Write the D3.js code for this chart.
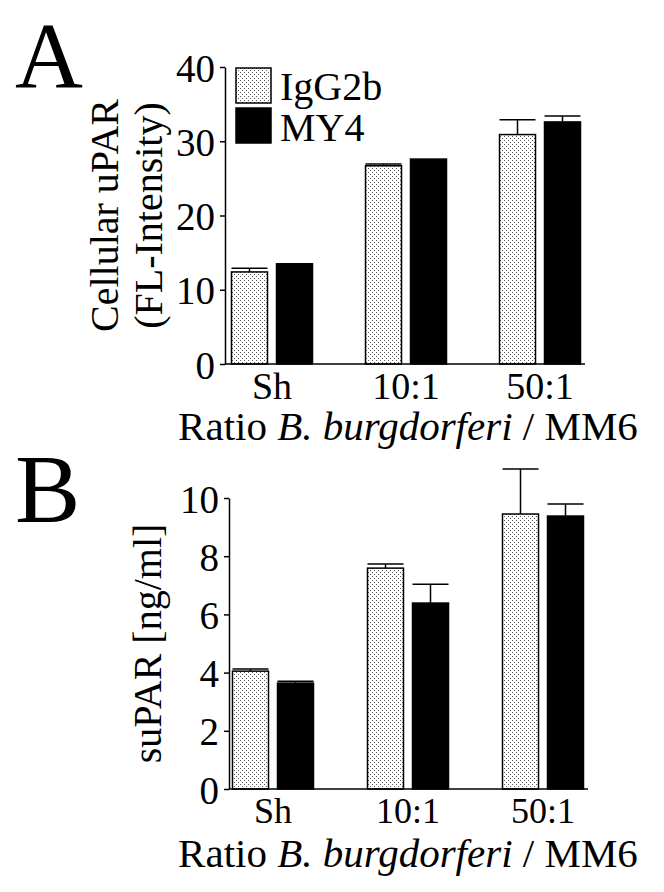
<!DOCTYPE html>
<html>
<head>
<meta charset="utf-8">
<script src="https://cdn.jsdelivr.net/npm/d3@7"></script>
<style>
  html, body { margin: 0; padding: 0; background: #fff; }
  svg { display: block; }
  text { font-family: "Liberation Serif", "Times New Roman", serif; fill: #000; }
</style>
</head>
<body>
<svg id="chart" width="664" height="892"></svg>
<script>
// ---------- data ----------
const categories = ["Sh", "10:1", "50:1"];
const seriesNames = ["IgG2b", "MY4"];

// Panel A: Cellular uPAR (FL-Intensity)
const cellularIgG2b = [12.4, 26.7, 30.9];
const cellularIgG2bErr = [0.5, 0.25, 2.0];
const cellularMY4 = [13.5, 27.6, 32.6];
const cellularMY4Err = [0, 0, 0.8];
const cellularTicks = [0, 10, 20, 30, 40];

// Panel B: suPAR [ng/ml]
const suparIgG2b = [4.05, 7.59, 9.45];
const suparIgG2bErr = [0.07, 0.14, 1.55];
const suparMY4 = [3.64, 6.39, 9.38];
const suparMY4Err = [0.06, 0.65, 0.41];
const suparTicks = [0, 2, 4, 6, 8, 10];

// ---------- drawing ----------
const svg = d3.select("#chart");
const defs = svg.append("defs");
const pat = defs.append("pattern")
  .attr("id", "stipple").attr("patternUnits", "userSpaceOnUse")
  .attr("width", 4).attr("height", 4);
pat.append("rect").attr("width", 4).attr("height", 4).attr("fill", "#fff");
pat.append("rect").attr("x", 0).attr("y", 0).attr("width", 1).attr("height", 1).attr("fill", "#555");
pat.append("rect").attr("x", 2).attr("y", 2).attr("width", 1).attr("height", 1).attr("fill", "#555");

const fills = { "IgG2b": "url(#stipple)", "MY4": "#000" };

function panel(opts) {
  const g = svg.append("g");
  const y = d3.scaleLinear().domain(opts.domain).range([opts.y0, opts.y1]);
  const x = d3.scalePoint().domain(categories).range(opts.xr);
  const xs = d3.scaleBand().domain(seriesNames).range([-40.5, 40.5]).paddingInner(0.2);
  const bw = xs.bandwidth();

  const rows = [];
  categories.forEach((c, i) => {
    rows.push({ c, s: "IgG2b", v: opts.a[i], e: opts.ae[i] });
    rows.push({ c, s: "MY4", v: opts.b[i], e: opts.be[i] });
  });

  // bars
  g.selectAll("rect.bar").data(rows).join("rect")
    .attr("class", "bar")
    .attr("x", d => x(d.c) + xs(d.s))
    .attr("y", d => y(d.v))
    .attr("width", bw)
    .attr("height", d => y(0) - y(d.v))
    .attr("fill", d => fills[d.s])
    .attr("stroke", "#000")
    .attr("stroke-width", 1.5);

  // error bars
  const eb = rows.filter(d => d.e > 0);
  g.selectAll("line.ev").data(eb).join("line")
    .attr("x1", d => x(d.c) + xs(d.s) + bw / 2)
    .attr("x2", d => x(d.c) + xs(d.s) + bw / 2)
    .attr("y1", d => y(d.v))
    .attr("y2", d => y(d.v + d.e))
    .attr("stroke", "#000").attr("stroke-width", 1.5);
  g.selectAll("line.ec").data(eb).join("line")
    .attr("x1", d => x(d.c) + xs(d.s))
    .attr("x2", d => x(d.c) + xs(d.s) + bw)
    .attr("y1", d => y(d.v + d.e))
    .attr("y2", d => y(d.v + d.e))
    .attr("stroke", "#000").attr("stroke-width", 1.5);

  // y axis
  const ax = g.append("g").attr("transform", `translate(${opts.ax},0)`)
    .call(d3.axisLeft(y).tickValues(opts.ticks).tickSize(5).tickSizeOuter(0).tickPadding(5));
  ax.select(".domain").attr("stroke-width", 1.5);
  ax.selectAll(".tick line").attr("stroke-width", 1.5);
  ax.selectAll(".tick text").style("font-family", '"Liberation Serif", serif')
    .style("font-size", "39px").attr("fill", "#000").attr("dy", "0.36em");

  // x axis line
  g.append("line")
    .attr("x1", opts.ax).attr("x2", opts.axEnd)
    .attr("y1", y(0)).attr("y2", y(0))
    .attr("stroke", "#000").attr("stroke-width", 1.5);

  // category labels
  g.selectAll("text.cat").data(categories).join("text")
    .attr("class", "cat")
    .attr("x", d => x(d)).attr("y", y(0) + opts.catDy)
    .attr("text-anchor", "middle")
    .style("font-size", opts.catSize + "px")
    .text(d => d);

  // x title
  const t = g.append("text")
    .attr("x", 408).attr("y", y(0) + opts.titleDy)
    .attr("text-anchor", "middle").style("font-size", "41px");
  t.append("tspan").text("Ratio ");
  t.append("tspan").attr("font-style", "italic").text("B. burgdorferi");
  t.append("tspan").text(" / MM6");

  // y title
  opts.ylab.forEach((l, i) => {
    g.append("text")
      .attr("transform", `translate(${l.x},${(opts.y0 + opts.y1) / 2}) rotate(-90)`)
      .attr("text-anchor", "middle").style("font-size", "40px")
      .text(l.t);
  });

  // panel letter
  g.append("text").attr("x", 15).attr("y", opts.letterY)
    .style("font-size", opts.letterSize + "px").text(opts.letter);
  return { g, y };
}

panel({
  domain: [0, 40], y0: 364, y1: 67, xr: [272, 540], ax: 225, axEnd: 585,
  a: cellularIgG2b, ae: cellularIgG2bErr, b: cellularMY4, be: cellularMY4Err,
  ticks: cellularTicks, catDy: 35, catSize: 38, titleDy: 76,
  ylab: [{ x: 118, t: "Cellular uPAR" }, { x: 162, t: "(FL-Intensity)" }],
  letter: "A", letterY: 87, letterSize: 94
});

panel({
  domain: [0, 10], y0: 789, y1: 498, xr: [273, 543], ax: 229, axEnd: 588,
  a: suparIgG2b, ae: suparIgG2bErr, b: suparMY4, be: suparMY4Err,
  ticks: suparTicks, catDy: 34, catSize: 36, titleDy: 78,
  ylab: [{ x: 161, t: "suPAR [ng/ml]" }],
  letter: "B", letterY: 522, letterSize: 98
});

// legend (panel A)
const legend = svg.append("g");
seriesNames.forEach((s, i) => {
  legend.append("rect")
    .attr("x", 236).attr("y", 68 + i * 40).attr("width", 35).attr("height", 35)
    .attr("fill", fills[s]).attr("stroke", "#000").attr("stroke-width", 1.5);
  legend.append("text")
    .attr("x", 280).attr("y", 100 + i * 41)
    .style("font-size", "40px").text(s);
});
</script>
</body>
</html>
